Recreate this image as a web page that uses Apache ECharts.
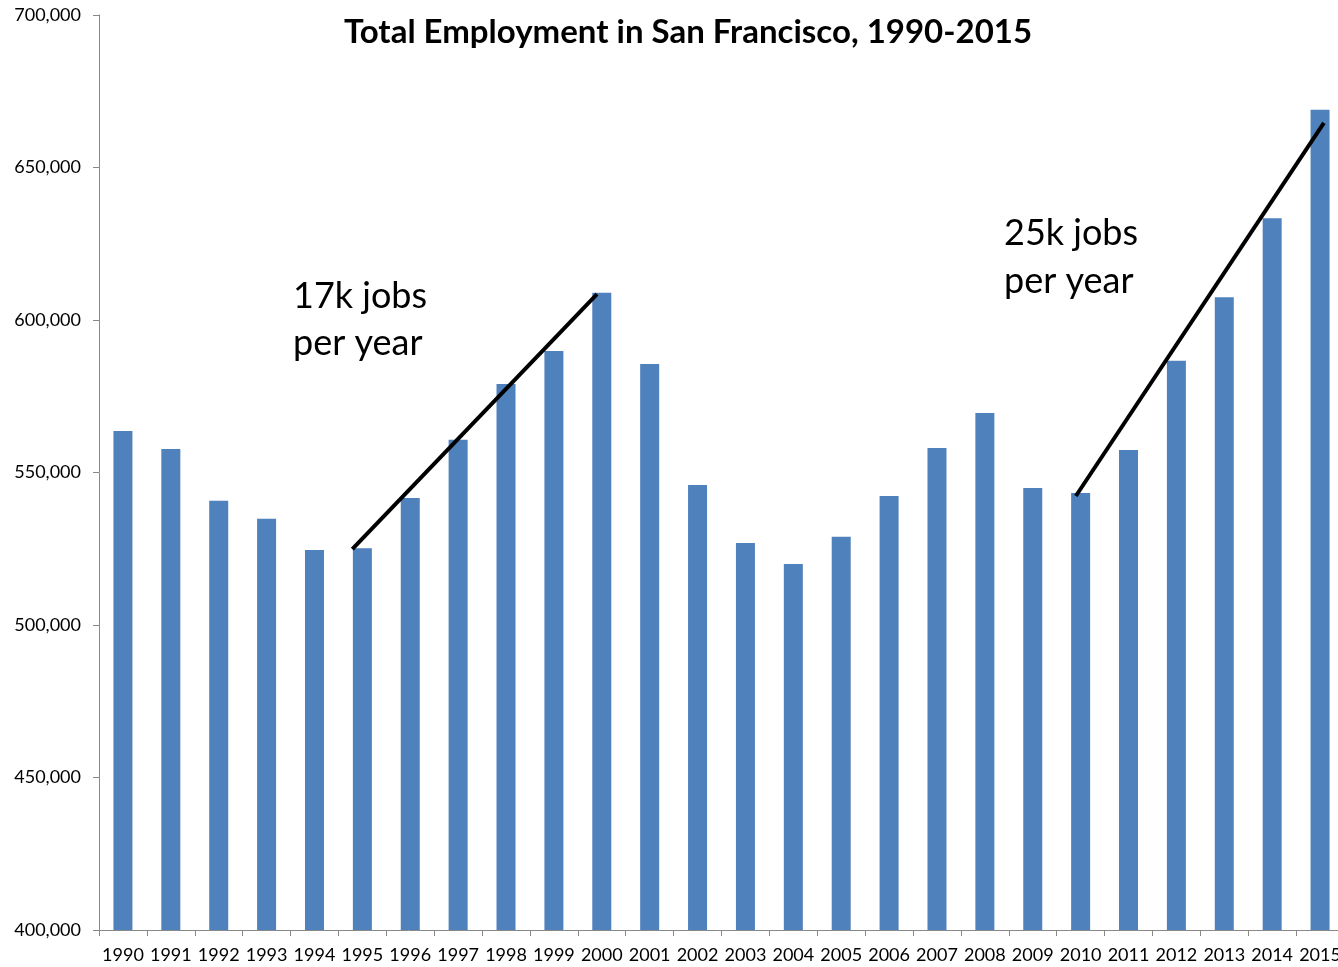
<!DOCTYPE html>
<html>
<head>
<meta charset="utf-8">
<script src="https://cdn.jsdelivr.net/npm/echarts@6/dist/echarts.min.js"></script>
<style>
  html, body { margin: 0; padding: 0; background: #fff; }
  #chart { width: 1338px; height: 967px; }
</style>
</head>
<body>
<div id="chart"></div>
<script>
const years = ["1990", "1991", "1992", "1993", "1994", "1995", "1996", "1997", "1998", "1999",
  "2000", "2001", "2002", "2003", "2004", "2005", "2006", "2007", "2008", "2009",
  "2010", "2011", "2012", "2013", "2014", "2015"];
const employment = [563600, 557700, 540700, 534800, 524600, 525200, 541600, 560700, 579000, 589800,
  608900, 585600, 545900, 526900, 520000, 528900, 542300, 558000, 569500, 544900,
  543300, 557400, 586600, 607500, 633400, 668900];

// trend lines drawn over the bars: [category position, value]
const trend1 = [[5.29, 524900], [10.40, 608500]];
const trend2 = [[20.40, 542300], [25.58, 664600]];

const chart = echarts.init(document.getElementById("chart"));

const font = "Lato, 'Open Sans', sans-serif";

chart.setOption({
  animation: false,
  title: {
    text: "Total Employment in San Francisco, 1990-2015",
    left: 683,
    top: 11,
    textAlign: "center",
    textStyle: { fontFamily: font, fontSize: 33, fontWeight: "bold", color: "#000" }
  },
  grid: { left: 99, width: 1245, top: 15, bottom: 37, outerBoundsMode: "none" },
  xAxis: [
    {
      type: "category",
      data: years,
      axisLine: { lineStyle: { color: "#888", width: 1 } },
      axisTick: { show: true, length: 6, lineStyle: { color: "#888" } },
      axisLabel: { color: "#000", fontSize: 18, fontFamily: font, margin: 16, interval: 0 }
    },
    {
      // hidden helper axis for the trend lines
      type: "value",
      min: 0,
      max: 26,
      show: false
    }
  ],
  yAxis: {
    type: "value",
    min: 400000,
    max: 700000,
    interval: 50000,
    splitLine: { show: false },
    axisLine: { show: true, lineStyle: { color: "#888", width: 1 } },
    axisTick: { show: true, length: 6, lineStyle: { color: "#888" } },
    axisLabel: {
      color: "#000",
      fontSize: 18,
      fontFamily: font,
      margin: 18,
      formatter: v => v.toLocaleString("en-US")
    }
  },
  graphic: [
    {
      type: "text",
      left: 293,
      top: 273,
      style: { text: "17k jobs\nper year", font: "36px " + font, fill: "#000", lineHeight: 47 }
    },
    {
      type: "text",
      left: 1004,
      top: 209,
      style: { text: "25k jobs\nper year", font: "36px " + font, fill: "#000", lineHeight: 48 }
    }
  ],
  series: [
    {
      type: "bar",
      data: employment,
      barWidth: 19,
      itemStyle: { color: "#4f81bd" }
    },
    {
      type: "line",
      xAxisIndex: 1,
      data: trend1,
      symbol: "none",
      lineStyle: { color: "#000", width: 4 },
      z: 5
    },
    {
      type: "line",
      xAxisIndex: 1,
      data: trend2,
      symbol: "none",
      lineStyle: { color: "#000", width: 4 },
      z: 5
    }
  ]
});
</script>
</body>
</html>
